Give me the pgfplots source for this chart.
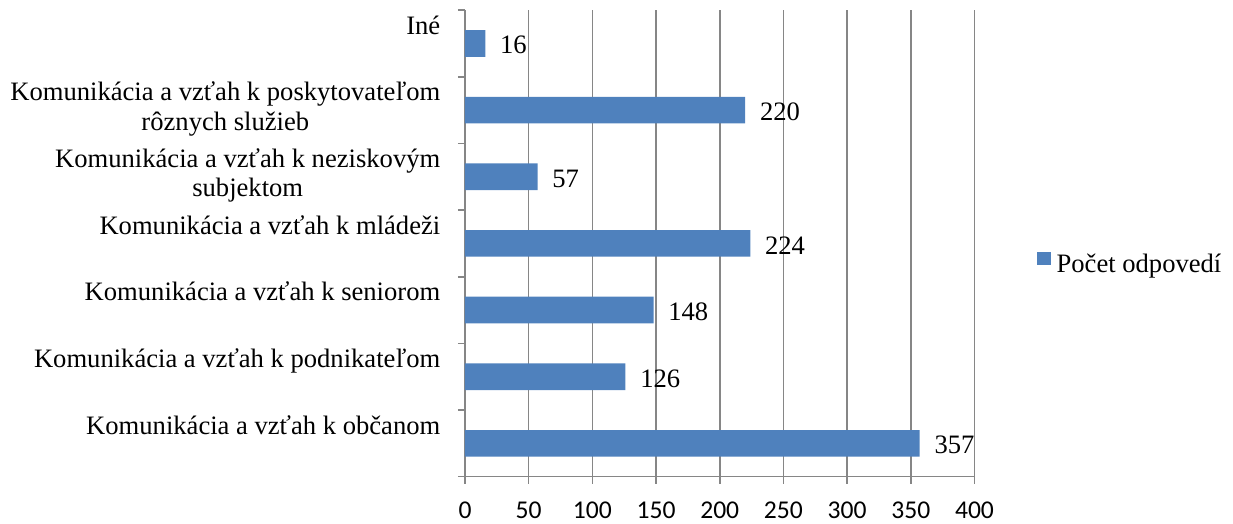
\documentclass[border=0pt]{standalone}
\usepackage{fontspec}
\setmainfont{Liberation Serif}
\newfontfamily\carlito{Carlito}
\usepackage{pgfplots}
\pgfplotsset{compat=1.18}
\definecolor{barblue}{HTML}{4F81BD}
\definecolor{gridgray}{HTML}{868686}
\newcommand{\lab}[1]{\begin{tabular}[t]{@{}c@{}}#1\end{tabular}}
\begin{document}
\begin{tikzpicture}
\begin{axis}[
 name=ax,
 scale only axis, width=254.75pt, height=233.3pt,
 xmin=0, xmax=400, ymin=-0.5, ymax=6.5,
 xbar, bar width=13.33pt,
 axis x line*=bottom, axis y line*=left,
 axis line style={-, draw=gridgray, line width=0.8pt},
 xtick={0,50,...,400},
 xmajorgrids, grid style={gridgray, line width=0.8pt},
 tick align=outside, major tick length=3.5pt,
 tick style={gridgray, line width=0.8pt},
 ytick={-0.5,0.5,...,6.5}, yticklabels={},
 extra y ticks={0,1,2,3,4,5,6},
 extra y tick labels={
  {\lab{Komunikácia a vzťah k občanom}},
  {\lab{Komunikácia a vzťah k podnikateľom}},
  {\lab{Komunikácia a vzťah k seniorom}},
  {\lab{Komunikácia a vzťah k mládeži}},
  {\lab{Komunikácia a vzťah k neziskovým\\subjektom}},
  {\lab{Komunikácia a vzťah k poskytovateľom\\rôznych služieb}},
  {\lab{Iné}}},
 extra y tick style={major tick length=0pt, grid=none},
 yticklabel style={font=\fontsize{13.3}{14.7}\selectfont, anchor=base east, inner sep=0pt, yshift=4.65pt, xshift=-12.15pt},
 xticklabel style={font=\carlito\fontsize{12.8}{14}\selectfont, anchor=base, inner sep=0pt, yshift=-17.6pt},
 /pgf/number format/assume math mode=true,
 point meta=x,
 nodes near coords,
 every node near coord/.append style={font=\fontsize{13.3}{14.7}\selectfont, black, anchor=west, inner sep=0pt, xshift=7.2pt, yshift=-0.9pt},
 legend style={at={(1.1233,0.4566)}, anchor=west, draw=none, fill=none, inner sep=0pt, outer sep=0pt,
   font=\fontsize{13.3}{14.7}\selectfont, nodes={inner sep=0pt}, /tikz/column sep=3pt},
 legend image code/.code={\fill[barblue] (0pt,0pt) rectangle (6.67pt,6.67pt);},
]
\addplot[fill=barblue, draw=none] coordinates {(357,0) (126,1) (148,2) (224,3) (57,4) (220,5) (16,6)};
\addlegendentry{Počet odpovedí}
\end{axis}
\pgfresetboundingbox
\path[use as bounding box] ([shift={(-232.5pt,-23.65pt)}]ax.south west) rectangle ([shift={(384pt,238.35pt)}]ax.south west);
\end{tikzpicture}
\end{document}
